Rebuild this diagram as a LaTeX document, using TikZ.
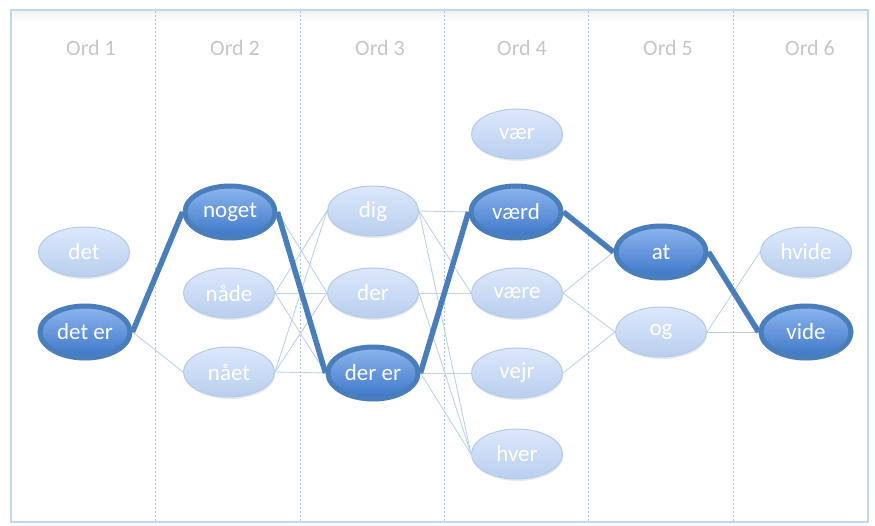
\documentclass[tikz,border=0pt]{standalone}
\usepackage{fontspec}
\setmainfont{Carlito}
\usetikzlibrary{shadows,shapes.geometric}
\definecolor{litetop}{HTML}{DCE8FB}
\definecolor{litebot}{HTML}{B8CFEE}
\definecolor{liteline}{HTML}{B4CAE6}
\definecolor{darktop}{HTML}{8DB6EE}
\definecolor{darkbot}{HTML}{3C76C8}
\definecolor{darkline}{HTML}{4A7EBB}
\definecolor{wireblue}{HTML}{BDD1EB}
\definecolor{gridblue}{HTML}{A8C4E8}
\definecolor{frameblue}{HTML}{C3D6EF}
\definecolor{headgray}{HTML}{C6C6C6}
\pgfdeclarelayer{background}
\pgfsetlayers{background,main}

\begin{document}
\begin{tikzpicture}[x=1pt,y=-1pt,
  word/.style={ellipse, inner sep=0pt, text=white,
    font=\fontsize{23}{27}\selectfont},
  lite/.style={word, minimum width=91pt, minimum height=50pt,
    draw=liteline, line width=1pt, top color=litetop, bottom color=litebot,
    drop shadow={opacity=0.18, shadow xshift=0.8pt, shadow yshift=-2pt}},
  dark/.style={word, minimum width=90pt, minimum height=52pt,
    draw=darkline, line width=5pt, top color=darktop, bottom color=darkbot,
    drop shadow={opacity=0.25, shadow xshift=0.8pt, shadow yshift=-2.5pt}},
  wire/.style={draw=wireblue, line width=0.9pt},
  route/.style={draw=darkline, line width=5.5pt},
  header/.style={text=headgray, font=\fontsize{22}{26}\selectfont},
  divider/.style={draw=gridblue, line width=0.8pt, dash pattern=on 2pt off 2pt}]

\useasboundingbox (0,0) rectangle (875,526);

% column headers
\node[header] (h1) at (91,48) {Ord 1};
\node[header] (h2) at (235,48) {Ord 2};
\node[header] (h3) at (380,48) {Ord 3};
\node[header] (h4) at (522,48) {Ord 4};
\node[header] (h5) at (668,48) {Ord 5};
\node[header] (h6) at (810,48) {Ord 6};

% word candidates
\node[lite] (det)   at (84,252)  {det};
\node[dark] (deter) at (85,332)  {det er};
\node[dark] (noget) at (230,212) {noget};
\node[lite] (naade) at (229,293) {nåde};
\node[lite] (naaet) at (229,372) {nået};
\node[lite] (dig)   at (373,211) {dig};
\node[lite] (der)   at (373,293) {der};
\node[dark] (derer) at (373,373) {der er};
\node[lite] (vaer)  at (517,134) {vær};
\node[dark] (vaerd) at (516,212) {værd};
\node[lite] (vaere) at (517,293) {være};
\node[lite] (vejr)  at (517,373) {vejr};
\node[lite] (hver)  at (517,454) {hver};
\node[dark] (at)    at (661,252) {at};
\node[lite] (og)    at (661,332) {og};
\node[lite] (hvide) at (806,252) {hvide};
\node[dark] (vide)  at (806,332) {vide};

\begin{pgfonlayer}{background}
  % frame with a faint inner shade along the top
  \shade[top color=black!5, bottom color=white] (12,11) rectangle (867,22);
  \draw[draw=frameblue, line width=2pt] (11,10) rectangle (868,522);
  % column dividers
  \foreach \cx in {155,300,444,588,733}
    \draw[divider] (\cx,11) -- (\cx,521);

  % all transitions
  \draw[wire] (deter.east) -- (naaet.west);
  \draw[wire] (noget.east) -- (der.west);
  \draw[wire] (naade.east) -- (dig.west);
  \draw[wire] (naade.east) -- (der.west);
  \draw[wire] (naade.east) -- (derer.west);
  \draw[wire] (naaet.east) -- (dig.west);
  \draw[wire] (naaet.east) -- (der.west);
  \draw[wire] (naaet.east) -- (derer.west);
  \draw[wire] (dig.east) -- (vaerd.west);
  \draw[wire] (dig.east) -- (vaere.west);
  \draw[wire] (dig.east) -- (hver.west);
  \draw[wire] (der.east) -- (vaere.west);
  \draw[wire] (der.east) -- (hver.west);
  \draw[wire] (derer.east) -- (vejr.west);
  \draw[wire] (derer.east) -- (hver.west);
  \draw[wire] (vaere.east) -- (at.west);
  \draw[wire] (vaere.east) -- (og.west);
  \draw[wire] (vejr.east) -- (og.west);
  \draw[wire] (og.east) -- (hvide.west);
  \draw[wire] (og.east) -- (vide.west);

  % best path
  \draw[route] (deter.east) -- (noget.west);
  \draw[route] (noget.east) -- (derer.west);
  \draw[route] (derer.east) -- (vaerd.west);
  \draw[route] (vaerd.east) -- (at.west);
  \draw[route] (at.east) -- (vide.west);
\end{pgfonlayer}
\end{tikzpicture}
\end{document}
